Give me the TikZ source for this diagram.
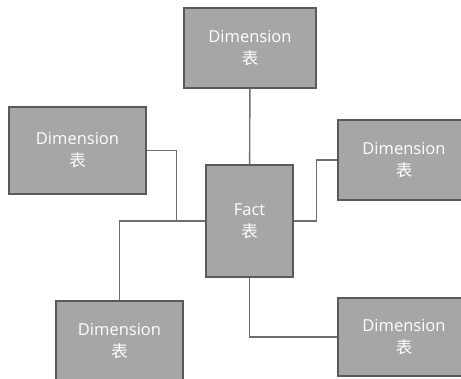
\documentclass[tikz,border=0pt]{standalone}
\usepackage{fontspec}
\setmainfont{Open Sans}
\newfontfamily\cjk{Noto Sans CJK SC}
\usepackage{xcolor}
\usepackage{tikz}
\usetikzlibrary{positioning,calc}

\definecolor{boxgray}{HTML}{A6A6A6}
\definecolor{edgegray}{HTML}{5A5A5A}
\definecolor{linkgray}{HTML}{6E6E6E}

\begin{document}
\begin{tikzpicture}[
  x=1pt, y=-1pt,
  box/.style={draw=edgegray, fill=boxgray, line width=1.2pt,
              minimum width=132pt, minimum height=80pt,
              align=center, text=white, font=\fontsize{16.5}{22}\selectfont},
  link/.style={draw=linkgray, line width=1.4pt}
]
  \useasboundingbox (0,0) rectangle (461,378);
  \clip (0,0) rectangle (461,378);

  \node[box, minimum width=87pt, minimum height=112pt] (fact) at (249.5,221)
    {Fact\\{\cjk 表}};
  \node[box] (dimtop) at (250,48) {Dimension\\{\cjk 表}};
  \node[box, minimum width=137pt, minimum height=87pt] (dimleft) at (77.5,150.5)
    {Dimension\\{\cjk 表}};
  \node[box] (dimright) at (404,160) {Dimension\\{\cjk 表}};
  \node[box, minimum width=127pt] (dimbl) at (119.5,341) {Dimension\\{\cjk 表}};
  \node[box, minimum height=78pt] (dimbr) at (404,337) {Dimension\\{\cjk 表}};

  \draw[link] (dimtop) -- (fact);
  \draw[link] (dimleft.east) -- ++(30,0) |- (fact.west);
  \draw[link] (dimbl.north) |- (fact.west);
  \draw[link] (fact.east) -- ++(23,0) |- (dimright.west);
  \draw[link] (fact.south) |- (dimbr.west);
\end{tikzpicture}
\end{document}
